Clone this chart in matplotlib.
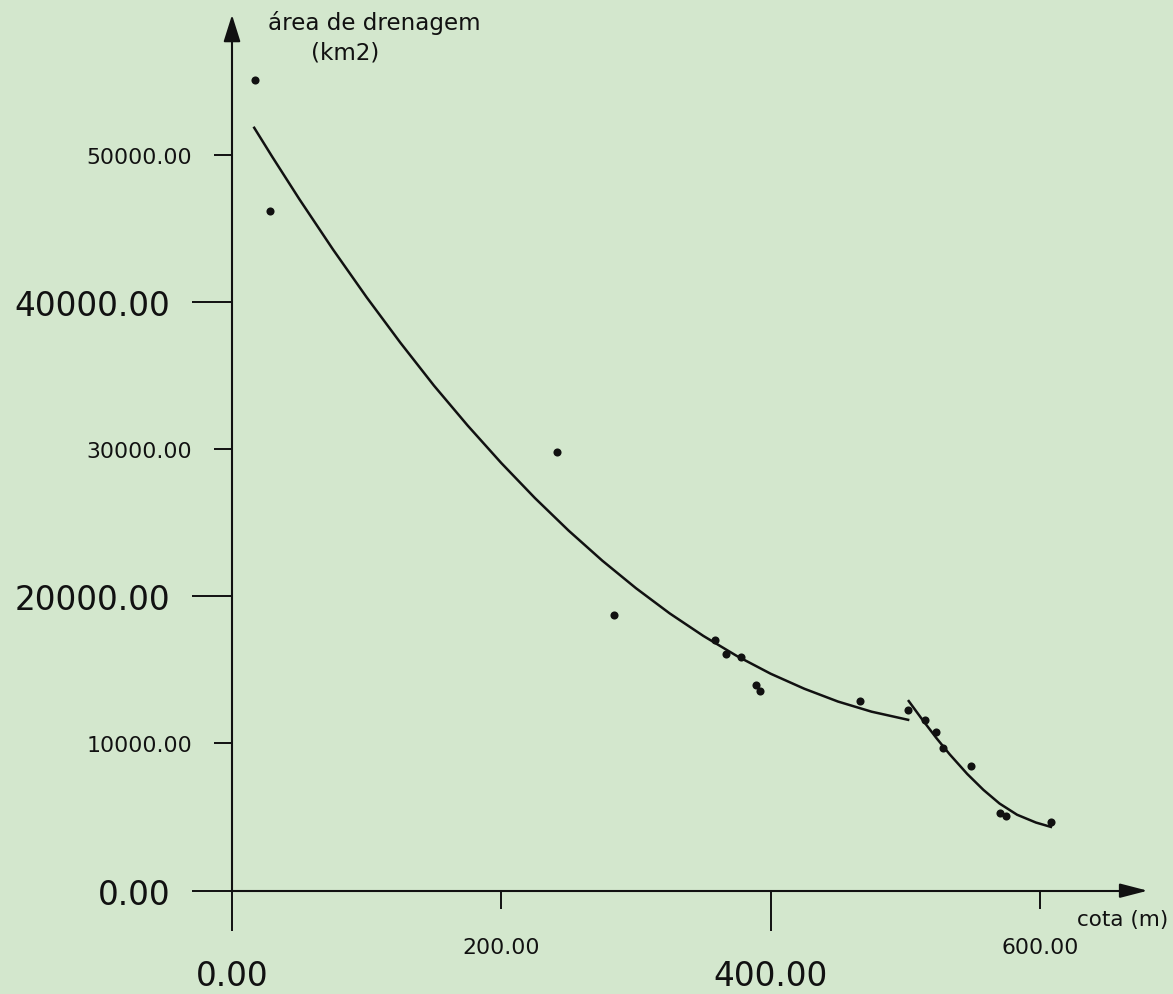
import matplotlib
matplotlib.use("Agg")
import matplotlib.pyplot as plt
from matplotlib.ticker import FixedLocator, FormatStrFormatter

# Observed stations: elevation (m) vs drainage area (km2)
cota_obs = [17, 28, 241, 284, 359, 367, 378, 389, 392, 466, 502, 515, 523, 528,
            549, 570, 575, 608]
area_obs = [55100, 46200, 29800, 18700, 17000, 16100, 15900, 14000, 13600, 12900,
            12300, 11600, 10800, 9700, 8500, 5300, 5100, 4650]

# Regression curve, upper reach
cota_fit1 = [16, 30, 50, 75, 100, 125, 150, 175, 200, 225, 250, 275, 300, 325,
             350, 375, 400, 425, 450, 475, 503]
area_fit1 = [51900, 49840, 46980, 43560, 40310, 37230, 34310, 31600, 29050, 26670,
             24460, 22420, 20550, 18840, 17310, 15940, 14740, 13720, 12850, 12160,
             11590]

# Regression curve, lower reach
cota_fit2 = [502, 512, 523, 533, 546, 558, 570, 583, 597, 609]
area_fit2 = [12950, 11700, 10380, 9260, 7930, 6850, 5920, 5160, 4630, 4310]

# Ticks: labelled large at the main positions, small at the intermediate ones
x_major = [0, 400]
x_minor = [200, 600]
y_major = [0, 20000, 40000]
y_minor = [10000, 30000, 50000]

xlabel = "cota (m)"
ylabel_1 = "área de drenagem"
ylabel_2 = "(km2)"

bg = "#d3e7cd"
ink = "#111111"

fig = plt.figure(figsize=(11.73, 9.95), dpi=100, facecolor=bg)
ax = fig.add_axes([0, 0, 1, 1], facecolor=bg)
ax.set_xlim(-172.3, 698.8)
ax.set_ylim(-7018, 60577)

# Axes drawn as crossing lines through the origin
for side in ("top", "right"):
    ax.spines[side].set_visible(False)
ax.spines["left"].set_position(("data", 0))
ax.spines["bottom"].set_position(("data", 0))
ax.spines["left"].set_bounds(0, 58200)
ax.spines["bottom"].set_bounds(0, 663)
for side in ("left", "bottom"):
    ax.spines[side].set_linewidth(1.5)
    ax.spines[side].set_color(ink)

ax.xaxis.set_major_locator(FixedLocator(x_major))
ax.xaxis.set_minor_locator(FixedLocator(x_minor))
ax.yaxis.set_major_locator(FixedLocator(y_major))
ax.yaxis.set_minor_locator(FixedLocator(y_minor))
fmt = FormatStrFormatter("%.2f")
for axis in (ax.xaxis, ax.yaxis):
    axis.set_major_formatter(fmt)
    axis.set_minor_formatter(fmt)

ax.tick_params(axis="both", which="major", direction="out", length=29, width=1.4,
               color=ink, labelcolor=ink, labelsize=23.5)
ax.tick_params(axis="both", which="minor", direction="out", length=13, width=1.4,
               color=ink, labelcolor=ink, labelsize=15.8)
ax.tick_params(axis="y", which="both", pad=15.5)
ax.tick_params(axis="x", which="major", pad=20)
ax.tick_params(axis="x", which="minor", pad=20)

# Arrowheads at the ends of both axes
head = dict(arrowstyle="-|>,head_length=16.5,head_width=5.2", color=ink,
            lw=1.5, shrinkA=0, shrinkB=0, mutation_scale=1)
ax.annotate("", xy=(0, 59500), xytext=(0, 57900), arrowprops=head, annotation_clip=False)
ax.annotate("", xy=(680, 0), xytext=(662, 0),
            arrowprops=dict(head, arrowstyle="-|>,head_length=17,head_width=4.4"),
            annotation_clip=False)

# Fitted curves and observations
ax.plot(cota_fit1, area_fit1, color=ink, lw=1.8, solid_capstyle="butt")
ax.plot(cota_fit2, area_fit2, color=ink, lw=1.8, solid_capstyle="butt")
ax.scatter(cota_obs, area_obs, s=34, color=ink, zorder=3, linewidths=0)

# Axis titles
ax.text(0.2285, 0.9769, ylabel_1, transform=ax.transAxes, ha="left", va="center",
        fontsize=16.6, color=ink)
ax.text(0.2941, 0.9467, ylabel_2, transform=ax.transAxes, ha="center", va="center",
        fontsize=16.6, color=ink)
ax.text(0.918, 0.0754, xlabel, transform=ax.transAxes, ha="left", va="center",
        fontsize=15.5, color=ink)

fig.savefig("out.png", dpi=100, facecolor=bg)
